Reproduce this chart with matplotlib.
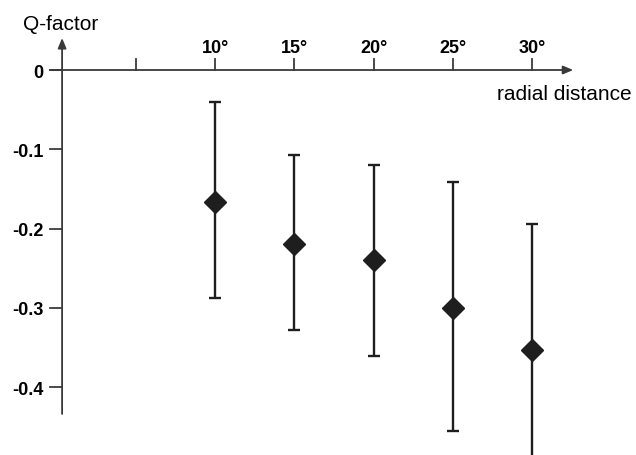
import matplotlib.pyplot as plt

# Q-factor vs radial distance (degrees)
angles = [10, 15, 20, 25, 30]
q_mean = [-0.167, -0.220, -0.240, -0.300, -0.353]
q_upper = [-0.041, -0.107, -0.120, -0.141, -0.194]
q_lower = [-0.288, -0.328, -0.361, -0.455, -0.488]

x_ticks = [5, 10, 15, 20, 25, 30]
x_labels = ["", "10°", "15°", "20°", "25°", "30°"]
y_ticks = [0, -0.1, -0.2, -0.3, -0.4]
y_labels = ["0", "-0.1", "-0.2", "-0.3", "-0.4"]

plt.rcParams["font.family"] = ["Liberation Sans", "DejaVu Sans"]

fig = plt.figure(figsize=(6.36, 4.56), dpi=100)
ax = fig.add_axes([0, 0, 1, 1])
ax.set_xlim(-3.59, 36.56)
ax.set_ylim(-0.4858, 0.0896)
ax.axis("off")

axis_color = "#3a3a3a"
x0 = 0.33  # where the vertical axis sits

# axes with arrows
arrow = dict(arrowstyle="-|>,head_length=0.6,head_width=0.25",
             lw=1.3, color=axis_color, shrinkA=0, shrinkB=0)
ax.annotate("", xy=(32.6, 0), xytext=(-0.43, 0), arrowprops=arrow)
ax.annotate("", xy=(x0, 0.0404), xytext=(x0, -0.434), arrowprops=arrow)

# ticks
for xt, lab in zip(x_ticks, x_labels):
    ax.plot([xt, xt], [0, 0.0139], color=axis_color, lw=1.3)
    if lab:
        ax.text(xt, 0.0233, lab, ha="center", va="baseline",
                fontsize=13, fontweight="bold")
for yt, lab in zip(y_ticks, y_labels):
    ax.plot([x0 - 0.76, x0], [yt, yt], color=axis_color, lw=1.3)
    ax.text(-0.85, yt - 0.0085, lab, ha="right", va="baseline",
            fontsize=13, fontweight="bold")

ax.text(-2.13, 0.0517, "Q-factor", ha="left", va="baseline", fontsize=15)
ax.text(27.8, -0.0366, "radial distance", ha="left", va="baseline", fontsize=15)

# error bars
err_low = [m - lo for m, lo in zip(q_mean, q_lower)]
err_high = [hi - m for m, hi in zip(q_mean, q_upper)]
ax.errorbar(angles, q_mean, yerr=[err_low, err_high], fmt="D",
            color="#1e1e1e", ms=11, ecolor="#1e1e1e", elinewidth=1.7,
            capsize=4.3, capthick=1.7)

fig.savefig("out.png", dpi=100)
